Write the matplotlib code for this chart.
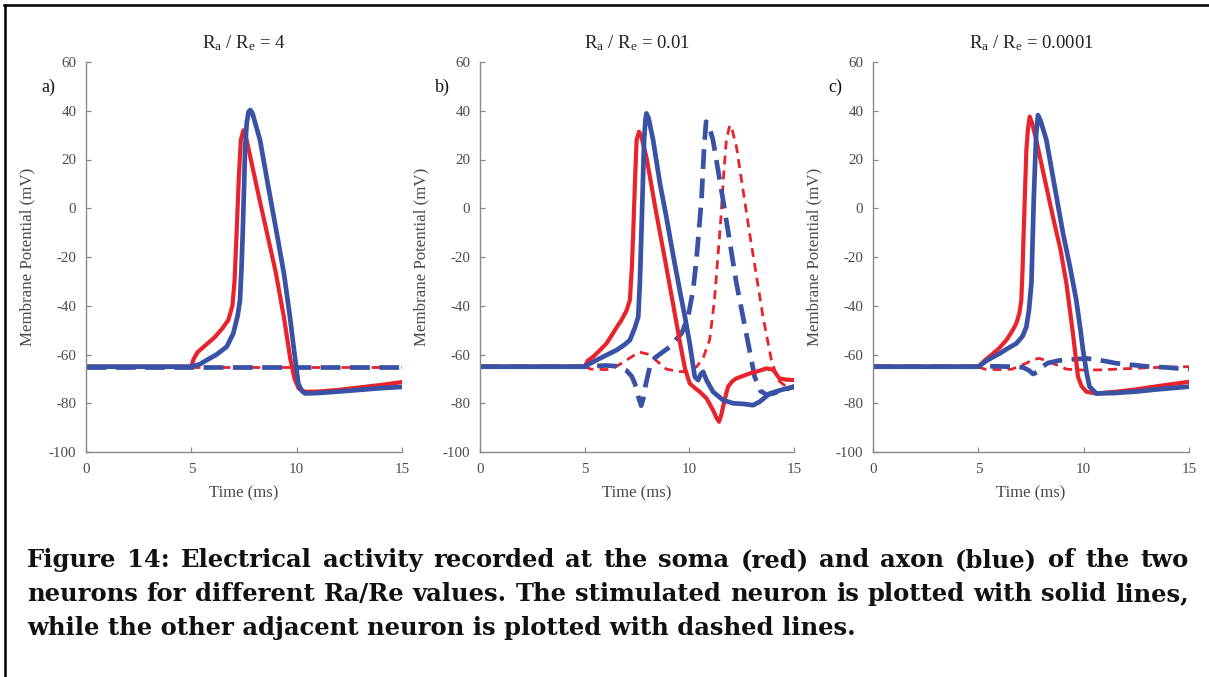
import matplotlib

matplotlib.use("Agg")
import matplotlib.pyplot as plt
from matplotlib.lines import Line2D

# ---- data (time in ms, potential in mV) ----
TITLES = [r"R$_\mathregular{a}$ / R$_\mathregular{e}$ = 4",
          r"R$_\mathregular{a}$ / R$_\mathregular{e}$ = 0.01",
          r"R$_\mathregular{a}$ / R$_\mathregular{e}$ = 0.0001"]
PANEL_TAGS = ["a)", "b)", "c)"]
X_TICKS = [0, 5, 10, 15]
Y_TICKS = [-100, -80, -60, -40, -20, 0, 20, 40, 60]

# panel a, Ra/Re = 4
a_soma_t = [0, 5.0, 5.1, 5.3, 5.7, 6.1, 6.5, 6.7, 6.75, 6.95, 7.05, 7.15, 7.25, 7.35, 7.47,
            7.6, 7.8, 8.2, 8.6, 9.0, 9.4, 9.7, 9.9, 10.1, 10.4, 11.0, 12.0, 13.0, 14.0, 15.0]
a_soma_v = [-65, -65, -62, -59, -56, -53, -49, -46.5, -46, -40, -30, -10, 12, 28, 32,
            29, 21, 5, -10.5, -26, -45, -62, -70, -74, -75.3, -75.2, -74.5, -73.5, -72.5, -71.3]
a_axon_t = [0, 5.0, 5.4, 5.73, 6.2, 6.68, 6.99, 7.2, 7.31, 7.38, 7.44, 7.5, 7.55, 7.63, 7.72,
            7.8, 7.9, 8.26, 8.65, 9.05, 9.4, 9.68, 9.9, 10.08, 10.25, 10.4, 11.0, 12.0, 13.0,
            14.0, 15.0]
a_axon_v = [-65, -65, -64, -62.3, -60, -56.8, -51.4, -44, -37.7, -25, -10, 8, 24, 35, 39.6,
            40.3, 39, 28, 9, -10, -27, -44.5, -60, -72, -75, -76, -75.8, -75.2, -74.5,
            -73.8, -73.3]
a_soma2_t = [0, 5.0, 10.0, 15.0]
a_soma2_v = [-65, -65, -65, -65]
a_axon2_t = [0, 5.0, 10.0, 15.0]
a_axon2_v = [-65, -65, -65, -65]

# panel b, Ra/Re = 0.01
b_soma_t = [0, 5.0, 5.15, 5.41, 5.7, 6.04, 6.3, 6.6, 6.75, 7.0, 7.16, 7.25, 7.32, 7.4, 7.48,
            7.6, 7.72, 7.95, 8.4, 8.9, 9.3, 9.62, 9.8, 10.02, 10.3, 10.5, 10.82, 11.13, 11.3,
            11.42, 11.52, 11.61, 11.75, 11.85, 12.05, 12.25, 12.88, 13.3, 13.68, 14.0, 14.15,
            14.3, 14.6, 15.0]
b_soma_v = [-65, -65, -62.5, -60.9, -58.5, -55.5, -52, -47.9, -46, -42, -37.7, -25, -10, 10, 28,
            31.4, 29, 21, -1, -24, -43, -58.2, -66, -71.9, -74, -75.3, -78, -82.8, -86,
            -87.6, -85, -81.5, -76.5, -73.2, -71, -69.8, -67.8, -66.8, -65.7, -66.2, -68,
            -69.8, -70.3, -70.5]
b_axon_t = [0, 5.0, 5.3, 5.73, 6.1, 6.52, 6.9, 7.16, 7.4, 7.56, 7.64, 7.71, 7.78, 7.84, 7.9,
            7.95, 8.05, 8.27, 8.6, 8.9, 9.2, 9.54, 9.8, 10.02, 10.15, 10.26, 10.42, 10.55,
            10.66, 10.75, 10.82, 11.13, 11.61, 12.09, 12.6, 13.04, 13.36, 13.84, 14.4, 15.0]
b_axon_v = [-65, -65, -63.5, -61.6, -60, -58.2, -56, -54.1, -49, -44.5, -30, -10.3, 10, 28, 36,
            38.9, 37, 28, 10, -3.5, -18, -33.6, -45, -55.5, -63, -69.1, -70.5, -68,
            -67.1, -69, -70.5, -75.3, -78.7, -80, -80.3, -80.8, -79.4, -76, -74.5, -73.2]
b_soma2_t = [0, 5.0, 5.3, 6.04, 6.5, 7.0, 7.6, 8.0, 8.3, 8.9, 9.5, 9.9, 10.35, 10.66, 10.97,
             11.2, 11.5, 11.65, 11.77, 11.93, 12.05, 12.25, 12.88, 13.52, 13.92, 14.24, 14.63,
             15.0]
b_soma2_v = [-65, -65, -66, -66.2, -65, -62.3, -59, -59.8, -61.6, -66, -67, -67, -65, -61.4, -54,
             -37.7, -5, 15, 28, 34.1, 32, 25.3, -10.3, -44.5, -62.3, -70.5, -73.2, -73.9]
b_axon2_t = [0, 5.0, 6.0, 6.5, 7.0, 7.25, 7.4, 7.55, 7.7, 7.8, 7.9, 8.1, 8.35, 9.06, 9.64,
             9.94, 10.18, 10.34, 10.58, 10.7, 10.8, 10.9, 11.13, 11.61, 12.25, 12.72, 13.12,
             13.4, 13.7, 14.0, 14.47, 15.0]
b_axon2_v = [-65, -65, -64.5, -64.8, -66.6, -69, -72, -77, -81, -78, -73, -65.5, -61.4, -56.9, -51.2,
             -44.5, -33.6, -21, 3.4, 24, 35.5, 35, 28, 3.4, -30.8, -51.4, -69.1,
             -75, -76.5, -76, -74.6, -73.2]

# panel c, Ra/Re = 0.0001
c_soma_t = [0, 5.0, 5.3, 5.7, 6.0, 6.33, 6.6, 6.8, 6.95, 7.04, 7.1, 7.15, 7.22, 7.28, 7.36,
            7.44, 7.55, 7.75, 8.15, 8.54, 8.9, 9.18, 9.49, 9.73, 9.9, 10.13, 10.6, 11.5, 12.5,
            13.5, 15.0]
c_soma_v = [-65, -65, -62.5, -59.6, -57.3, -54.1, -50.5, -47.3, -43, -37.7, -25, -10.3, 8, 23.9, 33,
            37.6, 35, 28, 12, -3.5, -17, -30.8, -51.4, -69.1, -73, -75.3, -76, -75.3, -74.3,
            -73, -71.2]
c_axon_t = [0, 5.0, 5.4, 6.01, 6.4, 6.8, 7.1, 7.28, 7.4, 7.52, 7.58, 7.63, 7.7, 7.75, 7.83,
            7.95, 8.23, 8.6, 9.02, 9.35, 9.65, 9.85, 9.97, 10.15, 10.28, 10.6, 11.5, 12.5,
            13.5, 15.0]
c_axon_v = [-65, -65, -62.5, -59.6, -57.5, -55.5, -52.5, -48.7, -42, -30.8, -12, 3.4, 20, 30.7, 38.2,
            36, 28, 10, -10.3, -24, -37.7, -50, -58.2, -68, -73.2, -76, -75.8, -75.2,
            -74.3, -73.2]
c_soma2_t = [0, 5.0, 5.3, 6.0, 6.6, 7.0, 7.28, 7.6, 7.91, 8.2, 8.54, 9.18, 9.97, 10.8, 11.55,
             13.13, 15.0]
c_soma2_v = [-65, -65, -66, -66.2, -66, -64.5, -63.6, -62, -61.6, -62.5, -63.6, -66, -66.4, -66.3, -66,
             -65.4, -65]
c_axon2_t = [0, 5.0, 5.5, 6.65, 7.12, 7.4, 7.6, 7.8, 7.95, 8.3, 8.8, 9.49, 10.13, 10.76, 11.55,
             12.34, 13.13, 13.92, 14.56, 15.0]
c_axon2_v = [-65, -65, -64.8, -65, -65.3, -66.5, -68, -67.2, -65.5, -63.5, -62.5, -62, -61.6, -62.3, -63.6,
             -64.3, -65, -65.3, -65.8, -66]

PANELS = [
    (a_soma_t, a_soma_v, a_axon_t, a_axon_v, a_soma2_t, a_soma2_v, a_axon2_t, a_axon2_v),
    (b_soma_t, b_soma_v, b_axon_t, b_axon_v, b_soma2_t, b_soma2_v, b_axon2_t, b_axon2_v),
    (c_soma_t, c_soma_v, c_axon_t, c_axon_v, c_soma2_t, c_soma2_v, c_axon2_t, c_axon2_v),
]

CAPTION = [
    "Figure 14: Electrical activity recorded at the soma (red) and axon (blue) of the two",
    "neurons for different Ra/Re values. The stimulated neuron is plotted with solid lines,",
    "while the other adjacent neuron is plotted with dashed lines.",
]

RED = "#E8232B"
BLUE = "#3A52A6"
AXIS_GRAY = "#8A8A8A"
TEXT_GRAY = "#4A4A4A"

W, H = 1209, 677

plt.rcParams["font.family"] = ["Liberation Serif", "DejaVu Serif"]
plt.rcParams["mathtext.fontset"] = "custom"
plt.rcParams["mathtext.rm"] = "Liberation Serif"
plt.rcParams["mathtext.it"] = "Liberation Serif:italic"
plt.rcParams["axes.unicode_minus"] = False

fig = plt.figure(figsize=(W / 100, H / 100), dpi=100)

# axes boxes in pixels: left, right; top and bottom are shared
lefts = [86, 480, 873]
rights = [402, 794, 1189]
top_px, bot_px = 62, 452

for i, (st, sv, at, av, st2, sv2, at2, av2) in enumerate(PANELS):
    l, r = lefts[i], rights[i]
    ax = fig.add_axes([l / W, 1 - bot_px / H, (r - l) / W, (bot_px - top_px) / H])
    ax.plot(st2, sv2, color=RED, lw=2.0, dashes=(3.2, 2.2), solid_capstyle="butt")
    ax.plot(at2, av2, color=BLUE, lw=3.4, dashes=(4.2, 2.0))
    ax.plot(st, sv, color=RED, lw=3.0, solid_joinstyle="round")
    ax.plot(at, av, color=BLUE, lw=3.4, solid_joinstyle="round")

    ax.set_xlim(0, 15)
    ax.set_ylim(-100, 60)
    ax.set_xticks(X_TICKS)
    ax.set_yticks(Y_TICKS)
    for s in ("top", "right"):
        ax.spines[s].set_visible(False)
    for s in ("left", "bottom"):
        ax.spines[s].set_color(AXIS_GRAY)
        ax.spines[s].set_linewidth(1.0)
    ax.tick_params(direction="in", length=3.5, width=0.9, color=AXIS_GRAY,
                   labelcolor=TEXT_GRAY, labelsize=10.8)
    ax.tick_params(axis="y", pad=7)
    ax.tick_params(axis="x", pad=8)
    ax.patch.set_alpha(0)

    ax.set_ylabel("Membrane Potential (mV)", fontsize=12.2, color=TEXT_GRAY)
    ax.yaxis.set_label_coords(-51 / (r - l), 0.5)
    ax.set_xlabel("Time (ms)", fontsize=12, color=TEXT_GRAY)
    ax.xaxis.set_label_coords(0.5, -0.085)

    ax.text(0.5, 1.036, TITLES[i], transform=ax.transAxes, ha="center", va="baseline",
            fontsize=13.5, color="#222222")
    ax.text(-38 / (r - l), 0.936, PANEL_TAGS[i], transform=ax.transAxes, ha="center",
            va="center", fontsize=13, color="#111111")

# caption, justified like the source document
renderer = fig.canvas.get_renderer()
cap_kw = dict(fontsize=17.5, fontweight="bold", family=["DejaVu Serif"], color="#111111",
              va="baseline", ha="left")
x_left, x_right = 27, 1189
baselines = [567, 601, 635]
for k, line in enumerate(CAPTION):
    words = line.split(" ")
    y = 1 - baselines[k] / H
    if k == len(CAPTION) - 1:
        fig.text(x_left / W, y, line, **cap_kw)
        continue
    texts = [fig.text(0, y, w, **cap_kw) for w in words]
    widths = [t.get_window_extent(renderer).width for t in texts]
    gap = (x_right - x_left - sum(widths)) / (len(words) - 1)
    x = x_left
    for t, w in zip(texts, widths):
        t.set_x(x / W)
        x += w + gap

# page border: top and left rules
fig.add_artist(Line2D([4 / W, 1], [1 - 5 / H, 1 - 5 / H], color="black", lw=1.8,
                      transform=fig.transFigure))
fig.add_artist(Line2D([5 / W, 5 / W], [0, 1 - 5 / H], color="black", lw=1.8,
                      transform=fig.transFigure))

fig.savefig("out.png", dpi=100)
